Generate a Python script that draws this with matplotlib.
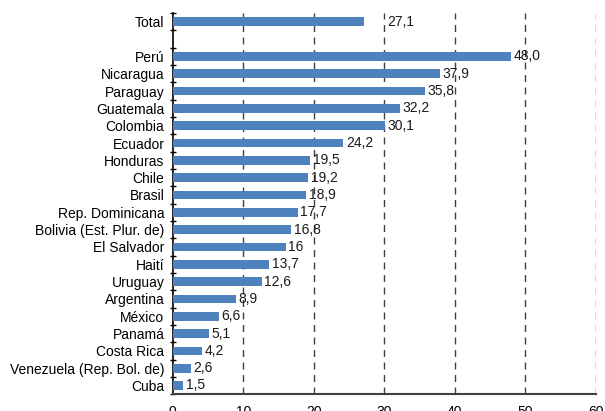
import matplotlib
matplotlib.use("Agg")
import matplotlib.pyplot as plt
import numpy as np

plt.rcParams['font.family'] = ['Liberation Sans', 'DejaVu Sans']

categories = ["Total", "", "Perú", "Nicaragua", "Paraguay", "Guatemala", "Colombia",
              "Ecuador", "Honduras", "Chile", "Brasil", "Rep. Dominicana",
              "Bolivia (Est. Plur. de)", "El Salvador", "Haití", "Uruguay",
              "Argentina", "México", "Panamá", "Costa Rica",
              "Venezuela (Rep. Bol. de)", "Cuba"]
values = [27.1, None, 48.0, 37.9, 35.8, 32.2, 30.1, 24.2, 19.5, 19.2, 18.9, 17.7,
          16.8, 16.0, 13.7, 12.6, 8.9, 6.6, 5.1, 4.2, 2.6, 1.5]
value_labels = ["27,1", "", "48,0", "37,9", "35,8", "32,2", "30,1", "24,2", "19,5",
                "19,2", "18,9", "17,7", "16,8", "16", "13,7", "12,6", "8,9", "6,6",
                "5,1", "4,2", "2,6", "1,5"]
x_ticks = [0, 10, 20, 30, 40, 50, 60]

fig = plt.figure(figsize=(6.05, 4.11), dpi=100)
ax = fig.add_axes([0.2855, 0.041, 0.6995, 0.927])

pos = np.arange(len(categories))
for i, v in enumerate(values):
    if v is None:
        continue
    ax.barh(pos[i], v, height=0.5, color="#4F81BD", zorder=3)
    off = 3.3 if i == 0 else 0.35
    ax.text(v + off, pos[i], value_labels[i], va="center", ha="left",
            fontsize=10, color="#1a1a1a", zorder=4)

ax.set_xlim(0, 60)
ax.set_ylim(len(categories) - 0.5, -0.5)
ax.set_xticks(x_ticks)
ax.set_xticklabels([str(t) for t in x_ticks], fontsize=10)
ax.tick_params(axis='x', length=0, pad=8)
ax.set_yticks(pos)
ax.set_yticklabels(categories, fontsize=10)
ax.tick_params(axis='y', length=0, pad=6)
ax.set_yticks(np.arange(-0.5, len(categories), 1), minor=True)
ax.tick_params(axis='y', which='minor', length=4, direction='inout', width=1, color='black')

for t in x_ticks[1:]:
    ax.axvline(t, color="#404040", linestyle=(0, (5, 4)), linewidth=1, zorder=1)

for s in ['top', 'right']:
    ax.spines[s].set_visible(False)
ax.spines['left'].set_color('black')
ax.spines['left'].set_linewidth(1.2)
ax.spines['bottom'].set_color('#404040')
ax.spines['bottom'].set_linewidth(1.5)

fig.savefig("out.png", dpi=100)
